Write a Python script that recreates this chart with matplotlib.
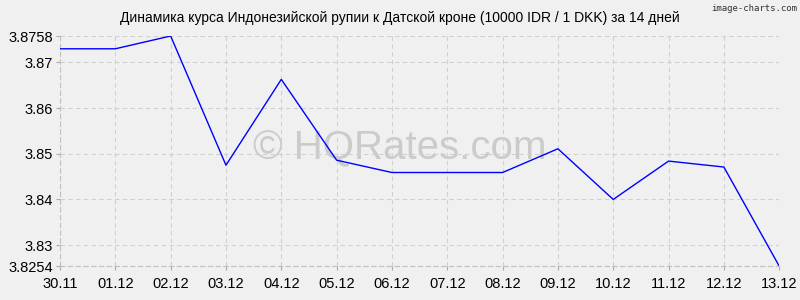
import matplotlib
matplotlib.use("Agg")
import matplotlib.pyplot as plt

# --------------------------------------------------------------
# Data
# --------------------------------------------------------------
dates = ["30.11", "01.12", "02.12", "03.12", "04.12", "05.12", "06.12",
         "07.12", "08.12", "09.12", "10.12", "11.12", "12.12", "13.12"]
rates = [3.8730, 3.8730, 3.8758, 3.8475, 3.8663, 3.8486, 3.8459,
         3.8459, 3.8459, 3.8511, 3.8400, 3.8484, 3.8471, 3.8254]
y_ticks = [3.8254, 3.83, 3.84, 3.85, 3.86, 3.87, 3.8758]
y_tick_labels = ["3.8254", "3.83", "3.84", "3.85", "3.86", "3.87", "3.8758"]

title = "Динамика курса Индонезийской рупии к Датской кроне (10000 IDR / 1 DKK) за 14 дней"

plt.rcParams["font.family"] = ["Liberation Sans", "DejaVu Sans"]

bg = "#f0f0f0"
fig = plt.figure(figsize=(8, 3), dpi=100, facecolor=bg)
ax = fig.add_axes([0.075, 0.113, 0.899, 0.767], facecolor=bg)

x = list(range(len(dates)))
ax.plot(x, rates, color="#0000ff", linewidth=1.0, zorder=3)

ax.set_xlim(0, len(dates) - 1)
ax.set_ylim(min(y_ticks), max(y_ticks))
ax.set_xticks(x)
ax.set_xticklabels(dates)
ax.set_yticks(y_ticks)
ax.set_yticklabels(y_tick_labels)

ax.grid(True, color="#d0d0d0", linestyle=(0, (4, 3)), linewidth=0.8)
for side in ["top", "right"]:
    ax.spines[side].set_visible(False)
for side in ["left", "bottom"]:
    ax.spines[side].set_color("#c0c0c0")
    ax.spines[side].set_linestyle((0, (4, 3)))
ax.tick_params(axis="both", length=3, color="#aaaaaa", labelsize=10.5,
               labelcolor="#000000", pad=2)
ax.tick_params(axis="x", pad=5)

# watermark behind the line
ax.text(0.472, 0.51, "© HQRates.com", transform=ax.transAxes,
        fontsize=29, color="#cbcbcb", ha="center", va="center", zorder=1)

fig.text(0.5, 0.94, title, ha="center", va="center", fontsize=10)
fig.text(0.996, 0.988, "image-charts.com", ha="right", va="top",
         fontsize=6.5, color="#333333", family="DejaVu Sans Mono")

fig.savefig("out.png", dpi=100, facecolor=bg)
